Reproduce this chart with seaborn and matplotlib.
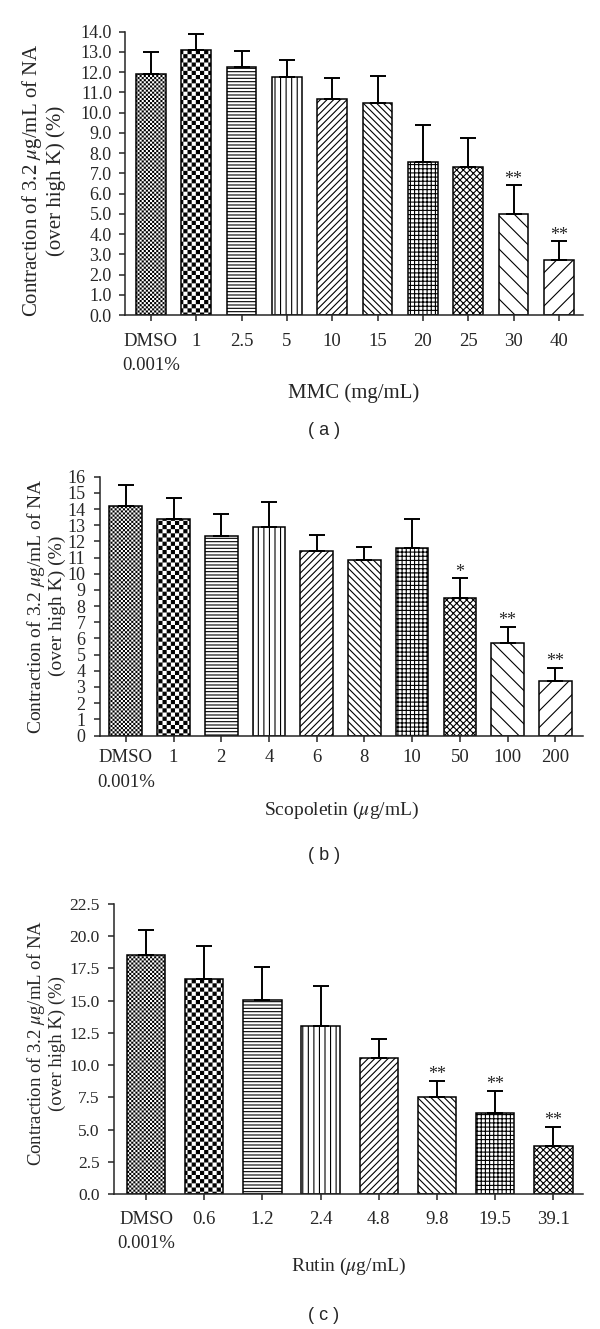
import numpy as np
import pandas as pd
import matplotlib
matplotlib.use("Agg")
import matplotlib.pyplot as plt
import matplotlib.hatch as mhatch
from matplotlib.path import Path
import seaborn as sns

# ---------------- data ----------------
mmc_labels = ["DMSO\n0.001%", "1", "2.5", "5", "10", "15", "20", "25", "30", "40"]
mmc_mean = [11.92, 13.09, 12.24, 11.74, 10.67, 10.49, 7.57, 7.30, 4.99, 2.72]
mmc_sd = [1.09, 0.78, 0.82, 0.86, 1.02, 1.32, 1.83, 1.46, 1.43, 0.92]
mmc_sig = ["", "", "", "", "", "", "", "", "**", "**"]

scop_labels = ["DMSO\n0.001%", "1", "2", "4", "6", "8", "10", "50", "100", "200"]
scop_mean = [14.20, 13.38, 12.35, 12.87, 11.42, 10.83, 11.59, 8.50, 5.74, 3.39]
scop_sd = [1.29, 1.32, 1.36, 1.54, 0.97, 0.84, 1.79, 1.22, 0.98, 0.80]
scop_sig = ["", "", "", "", "", "", "", "*", "**", "**"]

rutin_labels = ["DMSO\n0.001%", "0.6", "1.2", "2.4", "4.8", "9.8", "19.5", "39.1"]
rutin_mean = [18.52, 16.65, 15.05, 13.03, 10.53, 7.50, 6.31, 3.72]
rutin_sd = [1.96, 2.61, 2.56, 3.11, 1.49, 1.29, 1.70, 1.50]
rutin_sig = ["", "", "", "", "", "**", "**", "**"]

ylabel_text = "Contraction of 3.2 $\\mu$g/mL of NA\n(over high K) (%)"

# ---------------- checkerboard hatch ----------------
HLW = 0.8


class CheckerHatch(mhatch.HatchPatternBase):
    def __init__(self, hatch, density):
        n = hatch.count("O") * density
        self.n = n + (n % 2)
        self.num_vertices = 5 * (self.n * self.n // 2) if self.n else 0

    def set_vertices_and_codes(self, vertices, codes):
        n = self.n
        s = 1.0 / n
        ins = (HLW / 72.0) / 2.0
        k = 0
        for i in range(n):
            for j in range(n):
                if (i + j) % 2 == 0:
                    x0, y0 = i * s + ins, j * s + ins
                    x1, y1 = (i + 1) * s - ins, (j + 1) * s - ins
                    vertices[k:k + 5] = [[x0, y0], [x1, y0], [x1, y1], [x0, y1], [x0, y0]]
                    codes[k:k + 5] = [Path.MOVETO, Path.LINETO, Path.LINETO,
                                      Path.LINETO, Path.CLOSEPOLY]
                    k += 5


mhatch._hatch_types = [t for t in mhatch._hatch_types
                       if t is not mhatch.LargeCircles] + [CheckerHatch]

# ---------------- style ----------------
sns.set_style("ticks")
plt.rcParams["font.family"] = ["Liberation Serif", "DejaVu Serif"]
plt.rcParams["mathtext.fontset"] = "stix"
plt.rcParams["hatch.linewidth"] = HLW
plt.rcParams["hatch.color"] = "black"
plt.rcParams["axes.linewidth"] = 1.1

hatches10 = ["OOOOOOOO", "OOOO", "-----", "|||", "/////",
             "\\\\\\\\\\", "++++", "xxxxx", "\\\\", "//"]
hatches8 = hatches10[:8]

W, H = 600, 1329
fig = plt.figure(figsize=(W / 100, H / 100), dpi=100)


def rect(left, right, top, bottom):
    return [left / W, 1 - bottom / H, (right - left) / W, (bottom - top) / H]


def panel(r, labels, means, sds, sig, hatches, ymax, ystep, fmt, xlabel,
          xlim, width, ylab_x, ylab_y, ylab_fs, xlab_y, xlab_fs, xpad,
          ytick_fs, ypad):
    ax = fig.add_axes(r)
    df = pd.DataFrame({"cat": labels, "val": means})
    sns.barplot(data=df, x="cat", y="val", ax=ax, color="white",
                edgecolor="black", linewidth=1.1, width=width,
                errorbar=None, saturation=1)
    for p, h in zip(ax.patches, hatches):
        p.set_hatch(h)
        p.set_edgecolor("black")
    xs = np.arange(len(labels))
    ax.errorbar(xs, means, yerr=[np.zeros(len(means)), sds], fmt="none",
                ecolor="black", elinewidth=1.4, capsize=5.5, capthick=1.4,
                zorder=3)
    for x, m, s, t in zip(xs, means, sds, sig):
        if t:
            ax.annotate(t, (x, m + s), xytext=(0, 1.0),
                        textcoords="offset points", ha="center",
                        va="baseline", fontsize=13)
    yt = np.arange(0, ymax + ystep / 2, ystep)
    ax.set_ylim(0, ymax)
    ax.set_yticks(yt)
    ax.set_yticklabels([fmt.format(v) for v in yt], fontsize=ytick_fs)
    ax.set_xlim(*xlim)
    ax.tick_params(axis="y", direction="out", length=4.5, width=1.1, pad=ypad)
    ax.tick_params(axis="x", direction="out", length=4, width=1.1,
                   pad=xpad, labelsize=13.5)
    for lab in ax.get_xticklabels():
        lab.set_multialignment("center")
        lab.set_linespacing(1.55)
    ax.set_xlabel(xlabel, fontsize=xlab_fs)
    ax.xaxis.set_label_coords(0.5, xlab_y)
    ax.xaxis.label.set_va("center")
    ax.set_ylabel(ylabel_text, fontsize=ylab_fs, linespacing=1.15)
    ax.yaxis.set_label_coords(ylab_x, ylab_y)
    sns.despine(ax=ax)
    ax.grid(False)
    return ax


# (a)
ra = rect(125, 583, 31.7, 315)
panel(ra, mmc_labels, mmc_mean, mmc_sd, mmc_sig, hatches10, 14.0, 1.0,
      "{:.1f}", "MMC (mg/mL)", (-0.57, 9.53), 0.655,
      (66 - 125) / 458, 0.475, 15, -(393 - 315) / 283.3, 15, 9, 13, 5)

# (b)
rb = rect(100, 583, 476.7, 735.5)
panel(rb, scop_labels, scop_mean, scop_sd, scop_sig, hatches10, 16, 1,
      "{:.0f}", "Scopoletin ($\\mu$g/mL)", (-0.54, 9.58), 0.685,
      (66 - 100) / 483, 0.5, 14, -(810 - 735.5) / 258.8, 14, 6, 13, 6)

# (c)
rc = rect(114, 583, 904, 1194)
panel(rc, rutin_labels, rutin_mean, rutin_sd, rutin_sig, hatches8, 22.5, 2.5,
      "{:.1f}", "Rutin ($\\mu$g/mL)", (-0.55, 7.51), 0.66,
      (66 - 114) / 469, 0.52, 13.5, -(1266.7 - 1194) / 290, 14, 8, 12.5, 6)

for txt, yy in [("( a )", 430), ("( b )", 856), ("( c )", 1315)]:
    fig.text(324 / W, 1 - yy / H, txt, ha="center", va="center",
             fontsize=13, family="Liberation Sans")

fig.savefig("out.png", dpi=100)
